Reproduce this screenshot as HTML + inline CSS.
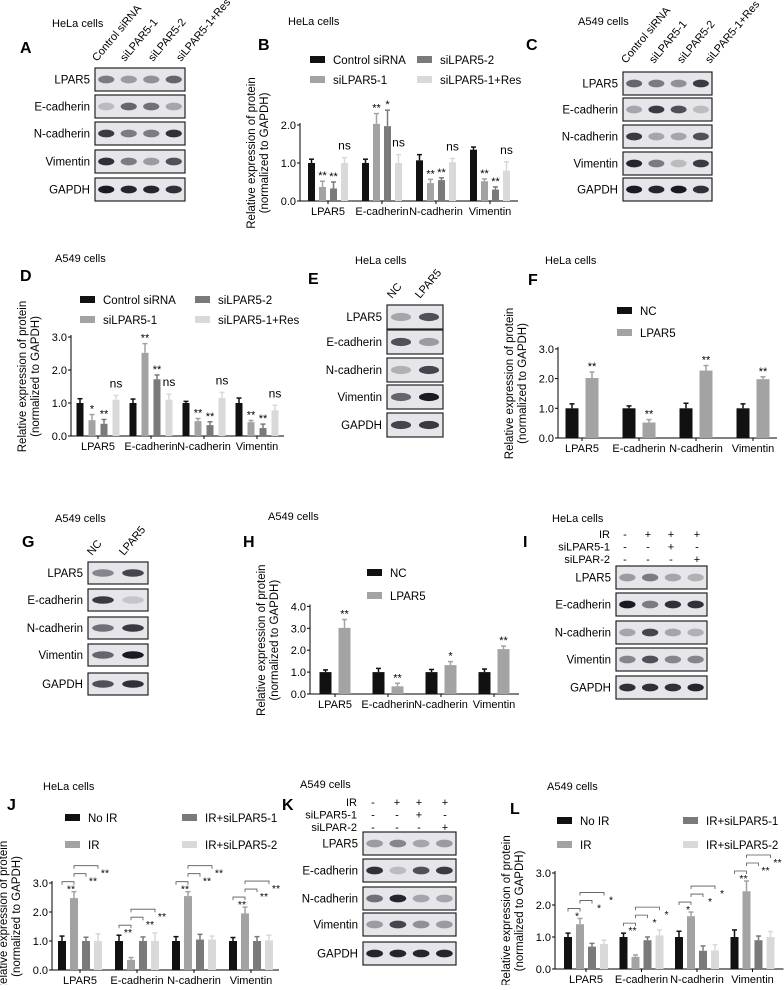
<!DOCTYPE html>
<html><head><meta charset="utf-8"><style>
body{margin:0;background:#fff;width:784px;height:985px;overflow:hidden}
svg{font-family:"Liberation Sans",Arial,sans-serif}
</style></head><body>
<svg id="fig" width="784" height="985" viewBox="0 0 784 985" xmlns="http://www.w3.org/2000/svg"></svg>
<script>
const cats=["LPAR5","E-cadherin","N-cadherin","Vimentin"];
// Panel B
const bCtrl=[1,1,1.07,1.35],bSi1=[0.37,2.03,0.47,0.52],bSi2=[0.33,1.97,0.55,0.3],bRes=[1,1,1.02,0.8];
const bErr1=[0.1,0.1,0.15,0.07],bErr2=[0.15,0.27,0.1,0.06],bErr3=[0.17,0.42,0.06,0.07],bErr4=[0.14,0.22,0.1,0.23];
const bStars=[["","","",""],["**","**","**","**"],["**","*","**","**"],["ns","ns","ns","ns"]];
// Panel D
const dCtrl=[1,1,1,1],dSi1=[0.48,2.52,0.45,0.42],dSi2=[0.37,1.72,0.33,0.24],dRes=[1.1,1.1,1.15,0.78];
const dErr1=[0.13,0.12,0.05,0.15],dErr2=[0.17,0.28,0.08,0.05],dErr3=[0.13,0.13,0.1,0.12],dErr4=[0.13,0.17,0.17,0.15];
const dStars=[["","","",""],["*","**","**","**"],["**","**","**","**"],["ns","ns","ns","ns"]];
// Panel F
const fNC=[1,1,1,1],fL=[2.02,0.52,2.27,1.98];
const fErr1=[0.15,0.08,0.17,0.15],fErr2=[0.2,0.1,0.17,0.08];
const fStars=[["","","",""],["**","**","**","**"]];
// Panel H
const hNC=[1,1,1,1],hL=[3.02,0.35,1.32,2.05];
const hErr1=[0.1,0.17,0.12,0.14],hErr2=[0.38,0.14,0.16,0.14];
const hStars=[["","","",""],["**","**","*","**"]];
// Panel J
const jNo=[1,1,1,1],jIR=[2.48,0.35,2.55,1.95],jS1=[1,1,1.05,1],jS2=[1,1,1.05,1.02];
const jErr1=[0.17,0.2,0.15,0.12],jErr2=[0.22,0.08,0.15,0.22],jErr3=[0.13,0.14,0.18,0.15],jErr4=[0.25,0.28,0.12,0.18];
const jBr=[["**","**","**","**"],["**","**","**","**"],["**","**","**","**"]];
// Panel L
const lNo=[1,1,1,1],lIR=[1.4,0.38,1.65,2.43],lS1=[0.7,0.9,0.57,0.9],lS2=[0.78,1.05,0.58,1];
const lErr1=[0.12,0.12,0.18,0.22],lErr2=[0.18,0.06,0.13,0.32],lErr3=[0.1,0.1,0.15,0.13],lErr4=[0.12,0.17,0.18,0.17];
const lBr=[["*","**","*","**"],["*","*","*","**"],["*","*","*","**"]];

const NS="http://www.w3.org/2000/svg",svg=document.getElementById("fig");
function el(t,a,p){const e=document.createElementNS(NS,t);for(const k in a)e.setAttribute(k,a[k]);(p||svg).appendChild(e);return e;}
function txt(x,y,s,size,name,extra){const e=el("text",Object.assign({x:x,y:y,"font-size":size||11},extra||{}));e.textContent=s;


return e;}

function chart(o){
 const g=el("g",{});
 
 
 const yS=v=>o.y0-v*o.ppu;
 const n=o.series.length, step=o.step, bw=o.bw, gp=o.gap;
 const cx=i=>o.x0+o.pad+step*i;
 const top=o.ticks[o.ticks.length-1];
 el("line",{x1:o.x0,y1:yS(top)-2,x2:o.x0,y2:o.y0,stroke:"#000","stroke-width":1},g);
 el("line",{x1:o.x0,y1:o.y0,x2:o.x0+o.pad*2+step*3,y2:o.y0,stroke:"#000","stroke-width":1},g);
 o.ticks.forEach(t=>{el("line",{x1:o.x0-3,y1:yS(t),x2:o.x0,y2:yS(t),stroke:"#000"},g);
  txt(o.x0-4,yS(t)+4,t.toFixed(1),11,"y-tick",{"text-anchor":"end"});});
 cats.forEach((c,i)=>{el("line",{x1:cx(i),y1:o.y0,x2:cx(i),y2:o.y0+3,stroke:"#000"},g);
  txt(cx(i),o.y0+14,c,11,"x-tick-"+c.toLowerCase(),{"text-anchor":"middle"});});
 const bx=(k,i)=>cx(i)+(k-(n-1)/2)*(bw+gp);
 o.series.forEach((s,k)=>{s.forEach((v,i)=>{
  const x=bx(k,i)-bw/2;
  const r=el("rect",{x:x,y:yS(v),width:bw,height:v*o.ppu,fill:o.colors[k]},g);
  
  
  const e=o.errs[k][i],tp=yS(v+e);
  el("line",{x1:x+bw/2,y1:yS(v),x2:x+bw/2,y2:tp,stroke:o.colors[k],"stroke-width":1.5},g);
  el("line",{x1:x+bw/2-2.5,y1:tp,x2:x+bw/2+2.5,y2:tp,stroke:o.colors[k],"stroke-width":1.5},g);
  if(o.stars&&o.stars[k][i]){const s2=o.stars[k][i];txt(x+bw/2,tp-(s2=="ns"?8:2),s2,s2=="ns"?12:11,"significance",{"text-anchor":"middle"});}
 });});
 if(o.brackets){o.series.forEach((s,k)=>{if(k==0)return;s.forEach((v,i)=>{
  const x0=k==1?bx(0,i):bx(1,i);
  const x1=bx(k,i);
  const base=Math.max(o.series[0][i]+o.errs[0][i],o.series[1][i]+o.errs[1][i]);
  const yy=yS(base)-10-(k-1)*8;
  el("path",{d:`M${x0} ${yy+3}V${yy}H${x1}V${yy+3}`,stroke:"#555",fill:"none","stroke-width":0.8},g);
  txt(x1+(k==1?-3:7),yy+11,o.brackets[k-1][i],10.5,"significance",{"text-anchor":"middle"});
 });});}
 const yl=el("text",{x:0,y:0,"font-size":11.5,"text-anchor":"middle",transform:`translate(${o.x0-42},${o.y0-(o.y0-yS(top))/2-10}) rotate(-90)`},g);
 
 const t1=el("tspan",{x:0,dy:-3},yl);t1.textContent="Relative  expression of protein";
 const t2=el("tspan",{x:0,dy:13},yl);t2.textContent="(normalized to GAPDH)";
 o.legend.forEach((L,k)=>{el("rect",{x:L[0],y:L[1]-4,width:15,height:7,fill:o.colors[k]},g);
  txt(L[0]+23,L[1]+4,o.labels[k],11.5,"legend-entry");});
}
const c4=["#111","#a3a3a3","#7a7a7a","#d9d9d9"],c2=["#111","#a3a3a3"];
chart({name:"chart-b",x0:300,y0:201,ppu:38,ticks:[0,1,2],pad:28,step:54,bw:7,gap:4,series:[bCtrl,bSi1,bSi2,bRes],errs:[bErr1,bErr2,bErr3,bErr4],stars:bStars,colors:c4,keys:["control","si1","si2","res"],labels:["Control siRNA","siLPAR5-1","siLPAR5-2","siLPAR5-1+Res"],legend:[[310,60],[310,80],[417,60],[417,80]]});
chart({name:"chart-d",x0:71,y0:436,ppu:33,ticks:[0,1,2,3],pad:27,step:53,bw:7,gap:5,series:[dCtrl,dSi1,dSi2,dRes],errs:[dErr1,dErr2,dErr3,dErr4],stars:dStars,colors:c4,keys:["control","si1","si2","res"],labels:["Control siRNA","siLPAR5-1","siLPAR5-2","siLPAR5-1+Res"],legend:[[80,300],[80,320],[195,300],[195,320]]});
chart({name:"chart-f",x0:558,y0:438,ppu:29.7,ticks:[0,1,2,3],pad:24,step:57,bw:13,gap:7,series:[fNC,fL],errs:[fErr1,fErr2],stars:fStars,colors:c2,keys:["nc","lpar5"],labels:["NC","LPAR5"],legend:[[617,311],[617,333]]});
chart({name:"chart-h",x0:310,y0:694,ppu:21.9,ticks:[0,1,2,3,4],pad:25,step:53,bw:12,gap:7,series:[hNC,hL],errs:[hErr1,hErr2],stars:hStars,colors:c2,keys:["nc","lpar5"],labels:["NC","LPAR5"],legend:[[367,573],[367,596]]});
chart({name:"chart-j",x0:52,y0:970,ppu:29,ticks:[0,1,2,3],pad:28,step:57,bw:8,gap:4,series:[jNo,jIR,jS1,jS2],errs:[jErr1,jErr2,jErr3,jErr4],colors:c4,keys:["noir","ir","si1","si2"],labels:["No IR","IR","IR+siLPAR5-1","IR+siLPAR5-2"],legend:[[65,818],[65,845],[182,818],[182,845]],brackets:jBr});
chart({name:"chart-l",x0:555,y0:969,ppu:32,ticks:[0,1,2,3],pad:31,step:55.5,bw:8,gap:4,series:[lNo,lIR,lS1,lS2],errs:[lErr1,lErr2,lErr3,lErr4],colors:c4,keys:["noir","ir","si1","si2"],labels:["No IR","IR","IR+siLPAR5-1","IR+siLPAR5-2"],legend:[[557,821],[557,845],[683,821],[683,845]],brackets:lBr});

// titles and letters
[["HeLa cells",52,27],["HeLa cells",288,25],["A549 cells",578,25],["A549 cells",55,262],["HeLa cells",355,264],["HeLa cells",545,264],["A549 cells",55,522],["A549 cells",268,520],["HeLa cells",552,522],["HeLa cells",43,790],["A549 cells",300,788],["A549 cells",547,790]].forEach(t=>txt(t[1],t[2],t[0],11,"panel-title"));
[["A",20,53],["B",258,50],["C",526,50],["D",20,281],["E",308,284],["F",528,285],["G",22,547],["H",243,547],["I",523,547],["J",7,810],["K",282,810],["L",510,814]].forEach(t=>txt(t[1],t[2],t[0],16,"panel-letter-"+t[0].toLowerCase(),{"font-weight":"bold"}));

// blots
function blot(name,x,w,rows,rh,nl,dark){
 const g=el("g",{});
 const L5=["LPAR5","E-cadherin","N-cadherin","Vimentin","GAPDH"];
 rows.forEach((ry,r)=>{el("rect",{x:x,y:ry,width:w,height:rh,fill:"#e6e6ea",stroke:"#222","stroke-width":1.2},g);
  for(let i=0;i<nl;i++){const lw=w/nl;const d=dark[r][i];
   el("ellipse",{cx:x+lw*(i+0.5),cy:ry+rh/2,rx:lw*0.36,ry:rh*0.17,fill:`rgba(15,15,25,${d})`},g);}
  txt(x-5,ry+rh/2+4,L5[r],11.5,"blot-row-label",{"text-anchor":"end"});});
}
blot("blot-a",95,90,[68,95,122,150,178],23,4,[[.5,.35,.4,.6],[.2,.6,.55,.3],[.8,.5,.5,.85],[.85,.5,.35,.7],[.95,.9,.9,.85]]);
blot("blot-c",623,89,[72,98,125,152,178],23,4,[[.6,.5,.4,.8],[.3,.8,.7,.2],[.8,.3,.3,.7],[.9,.5,.2,.8],[.95,.9,.95,.85]]);
blot("blot-e",387,56,[305,330,358,385,413],24,2,[[.3,.7],[.7,.35],[.25,.75],[.6,.95],[.75,.8]]);
blot("blot-g",88,60,[562,589,617,644,673],22,2,[[.45,.75],[.8,.15],[.55,.8],[.6,.95],[.7,.85]]);
blot("blot-i",616,91,[566,593,621,648,676],23,4,[[.35,.5,.3,.25],[.95,.5,.85,.85],[.3,.75,.3,.25],[.45,.7,.45,.45],[.85,.85,.85,.9]]);
blot("blot-k",363,93,[832,859,887,913,942],23,4,[[.35,.45,.3,.35],[.85,.2,.7,.8],[.55,.9,.3,.3],[.35,.75,.4,.35],[.9,.9,.9,.9]]);
// lane labels rotated
function lanes(x0,step,y,labs){labs.forEach((l,i)=>txt(0,0,l,11,"lane-label",{transform:`translate(${x0+step*i},${y}) rotate(-50)`}));}
lanes(97,28,62,["Control siRNA","siLPAR5-1","siLPAR5-2","siLPAR5-1+Res"]);
lanes(626,28,64,["Control siRNA","siLPAR5-1","siLPAR5-2","siLPAR5-1+Res"]);
lanes(392,28,299,["NC","LPAR5"]);lanes(92,32,556,["NC","LPAR5"]);
// IR tables
function irTable(x,xs,y,name){const g=el("g",{});
 const rows=[["IR","-","+","+","+"],["siLPAR5-1","-","-","+","-"],["siLPAR-2","-","-","-","+"]];
 rows.forEach((r,j)=>{txt(x,y+j*12.5,r[0],11,"treatment-label",{"text-anchor":"end"});r.slice(1).forEach((c,i)=>txt(xs[i],y+j*12.5,c,11,"treatment-sign",{"text-anchor":"middle"}));});}
irTable(610,[625,648,671,697],538,"treatment-table-i");
irTable(357,[373,397,419,445],806,"treatment-table-k");
</script>
</body></html>
